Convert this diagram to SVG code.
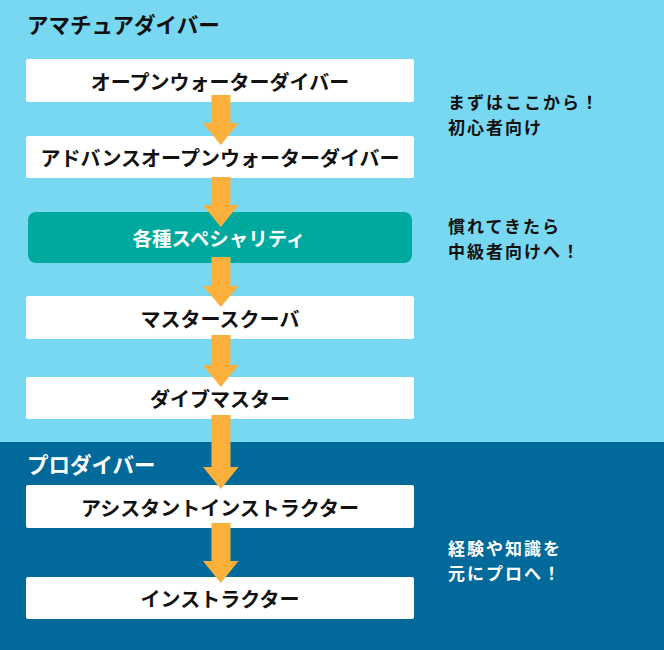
<svg xmlns="http://www.w3.org/2000/svg" width="664" height="650" viewBox="0 0 664 650">
<defs>
<style>
.zone-amateur{fill:#78D7F1}
.zone-pro{fill:#016A9A}
.box{fill:#FFFFFF}
.teal{fill:#00A99D}
.t{font-family:"Noto Sans CJK JP","Noto Sans",sans-serif;font-weight:bold}
.lbl{font-size:20px;fill:#111111;text-anchor:middle;dominant-baseline:central}
.lblw{font-size:19.5px;fill:#FFFFFF;text-anchor:middle;dominant-baseline:central}
.head{font-size:21.5px}
.note{font-size:17px;letter-spacing:2px}
.arrow{fill:#FBB03B}
</style>
</defs>
<g id="zones">
<rect class="zone-amateur" x="0" y="0" width="664" height="442"/>
<rect class="zone-pro" x="0" y="442" width="664" height="208"/>
<text class="t head" x="27" y="33" fill="#111111">アマチュアダイバー</text>
<text class="t head" x="27" y="473" fill="#FFFFFF">プロダイバー</text>
</g>
<g id="notes">
<text class="t note" x="448" y="109" fill="#111111">まずはここから！</text>
<text class="t note" x="448" y="134" fill="#111111">初心者向け</text>
<text class="t note" x="448" y="233" fill="#111111">慣れてきたら</text>
<text class="t note" x="448" y="258" fill="#111111">中級者向けへ！</text>
<text class="t note" x="448" y="555" fill="#FFFFFF">経験や知識を</text>
<text class="t note" x="448" y="580" fill="#FFFFFF">元にプロへ！</text>
</g>
<g id="node-openwater">
<rect class="box" x="26" y="59" width="388" height="43" rx="2"/>
<text class="t lbl" x="220" y="81">オープンウォーターダイバー</text>
</g>
<g id="node-advanced">
<rect class="box" x="26" y="136" width="388" height="42" rx="2"/>
<text class="t lbl" x="220" y="157">アドバンスオープンウォーターダイバー</text>
</g>
<g id="node-specialty">
<rect class="teal" x="28" y="212" width="384" height="51" rx="8"/>
<text class="t lblw" x="219" y="237">各種スペシャリティ</text>
</g>
<g id="node-masterscuba">
<rect class="box" x="26" y="296" width="388" height="43" rx="2"/>
<text class="t lbl" x="220" y="318">マスタースクーバ</text>
</g>
<g id="node-divemaster">
<rect class="box" x="26" y="377" width="388" height="42" rx="2"/>
<text class="t lbl" x="220" y="398">ダイブマスター</text>
</g>
<g id="node-assistant">
<rect class="box" x="26" y="485" width="388" height="43" rx="2"/>
<text class="t lbl" x="220" y="507">アシスタントインストラクター</text>
</g>
<g id="node-instructor">
<rect class="box" x="26" y="577" width="388" height="42" rx="2"/>
<text class="t lbl" x="220" y="598">インストラクター</text>
</g>
<g id="connectors">
<polygon class="arrow" points="211.5,95 230.5,95 230.5,123 238.5,123 220.8,145 203,123 211.5,123"/>
<polygon class="arrow" points="211.5,177 230.5,177 230.5,205 238.5,205 220.8,227 203,205 211.5,205"/>
<polygon class="arrow" points="211.5,257 230.5,257 230.5,286 238.5,286 220.8,307 203,286 211.5,286"/>
<polygon class="arrow" points="211.5,335 230.5,335 230.5,365 238.5,365 220.8,387 203,365 211.5,365"/>
<polygon class="arrow" points="211.5,415 230.5,415 230.5,467 238.5,467 220.8,489 203,467 211.5,467"/>
<polygon class="arrow" points="211.5,523 230.5,523 230.5,561 238.5,561 220.8,583 203,561 211.5,561"/>
</g>
</svg>
